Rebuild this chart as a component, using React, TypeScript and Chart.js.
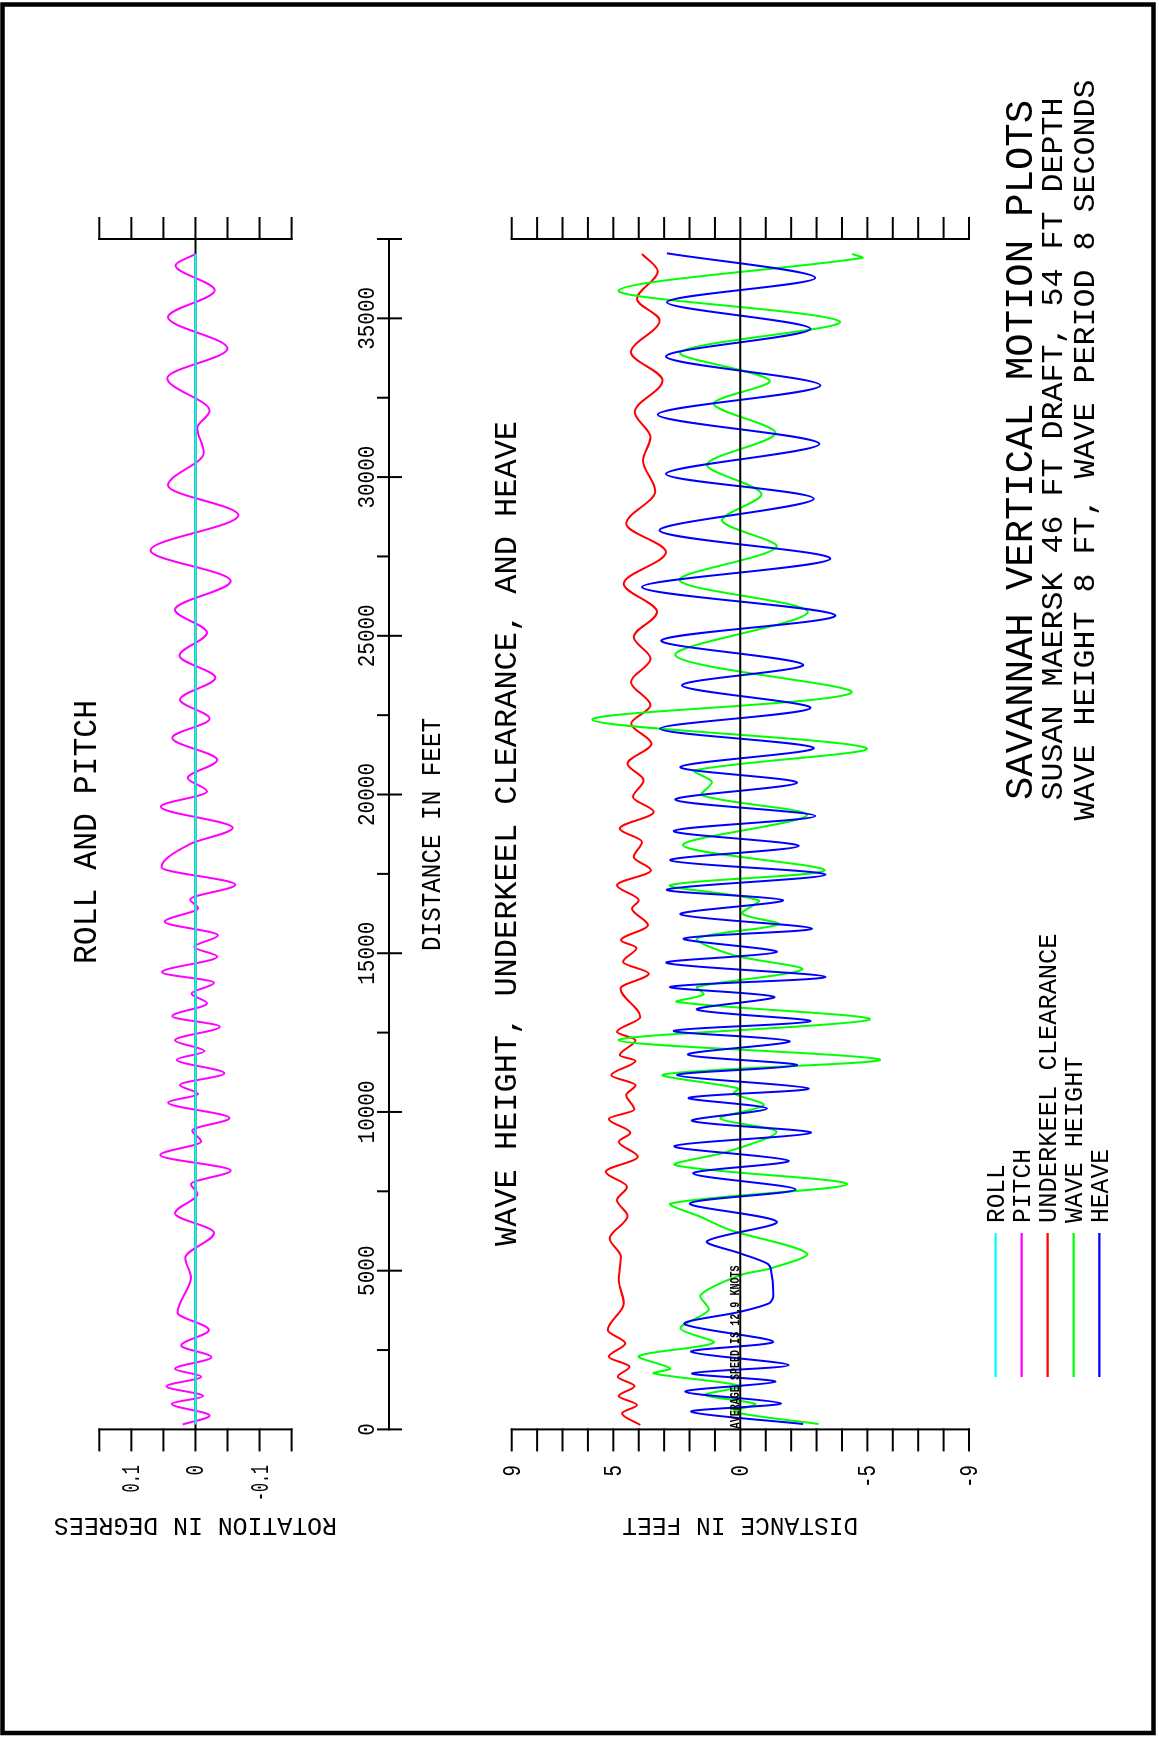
import React, { useEffect, useRef } from 'react';
import { Chart, registerables } from 'chart.js';

Chart.register(...registerables);

// ---------------- DATA ----------------
const rollDist = [155, 37030];
const rollVal = [0, 0];

const pitchDist = [155, 436, 804, 1049, 1356, 1662, 1906, 2274, 2642, 3132, 3683, 4786, 5398, 6194, 6807, 7420, 7726, 8154, 8644, 9073, 9416, 9808, 10298, 10567, 10849, 11217, 11646, 11915, 12258, 12687, 13017, 13422, 13728, 14071, 14402, 14892, 15198, 15565, 15994, 16423, 16693, 17158, 17709, 18444, 18950, 19616, 20098, 20520, 21086, 21785, 22388, 22990, 23677, 24376, 25099, 25822, 26726, 27690, 28798, 29738, 30762, 31546, 32088, 33112, 34052, 35040, 35884, 36667, 37028];
const pitchVal = [0.020, -0.022, 0.037, -0.012, 0.045, -0.009, 0.032, -0.025, 0.022, -0.021, 0.028, 0.007, 0.016, -0.029, 0.032, -0.003, 0.007, -0.055, 0.055, -0.009, 0.005, -0.053, 0.043, -0.004, 0.024, -0.045, 0.029, -0.014, 0.032, -0.038, 0.036, -0.018, 0.006, -0.029, 0.052, -0.034, 0.002, -0.035, 0.048, -0.004, 0.008, -0.062, 0.053, 0.008, -0.058, 0.054, -0.018, 0.012, -0.034, 0.036, -0.022, 0.024, -0.031, 0.025, -0.018, 0.032, -0.055, 0.070, -0.067, 0.043, -0.013, -0.003, -0.022, 0.044, -0.050, 0.043, -0.030, 0.031, 0.0];

const clearanceDist = [138, 506, 768, 1052, 1364, 1660, 1975, 2290, 2710, 3130, 3969, 4704, 5439, 6016, 6719, 7223, 7643, 8115, 8588, 9060, 9343, 9780, 10077, 10529, 10844, 11159, 11610, 11788, 12261, 12523, 12995, 13888, 14360, 14727, 15168, 15410, 15882, 16407, 16669, 17141, 17614, 18033, 18506, 18926, 19450, 19922, 20447, 20972, 21602, 22231, 22809, 23543, 24278, 24960, 25747, 26640, 27637, 28528, 29557, 30523, 31257, 32045, 33042, 33934, 34931, 35613, 36484, 37030];
const clearanceVal = [3.94, 4.66, 4.07, 4.79, 4.17, 4.83, 4.36, 5.18, 4.53, 5.22, 4.59, 4.79, 4.70, 5.14, 4.44, 4.86, 4.46, 5.30, 4.04, 4.79, 4.33, 5.18, 4.17, 4.49, 4.13, 5.08, 4.13, 4.75, 4.13, 4.86, 3.94, 4.72, 3.61, 4.62, 4.09, 4.70, 3.64, 4.27, 4.00, 4.86, 3.52, 4.20, 3.87, 4.75, 3.41, 4.23, 3.81, 4.44, 3.50, 4.29, 3.54, 4.30, 3.54, 4.20, 3.28, 4.59, 2.93, 4.49, 3.35, 3.83, 3.54, 4.16, 3.06, 4.30, 3.18, 4.07, 3.25, 3.87];

const waveDist = [170, 558, 800, 1083, 1366, 1765, 1923, 2311, 2731, 3182, 3759, 4231, 4861, 5071, 5544, 6278, 6698, 7118, 7727, 8325, 8745, 9375, 9794, 10214, 10582, 10739, 11180, 11652, 12261, 12911, 13468, 13700, 13940, 14486, 14937, 15462, 15913, 16249, 16669, 17141, 17614, 18401, 19345, 19975, 20394, 20762, 21465, 22357, 23207, 24383, 25747, 26745, 27794, 28633, 29473, 30397, 31383, 32307, 33042, 33934, 34900, 35876, 36904, 37030];
const waveVal = [-3.08, 0.26, -0.59, 1.38, 0.0, 3.41, 2.76, 4.00, 1.05, 2.36, 1.25, 1.57, 0.0, -1.18, -2.62, 0.39, 1.57, 2.73, -4.20, 2.56, 0.52, -1.42, 0.79, -0.92, 0.26, 0.07, 3.02, -5.49, 4.79, -5.09, 2.49, 1.45, 1.70, -2.43, 0.26, 1.71, -1.51, -0.07, -0.72, 2.76, -3.31, 2.26, -2.62, 1.51, 1.12, 1.80, -4.96, 5.83, -4.37, 2.56, -2.65, 2.39, -1.42, 0.72, -0.83, 1.31, -1.38, 1.05, -1.15, 2.36, -3.91, 4.79, -4.79, -4.40];

const heaveDist = [170, 558, 821, 1188, 1503, 1765, 2027, 2447, 2763, 3319, 3707, 3969, 4179, 5019, 5229, 5544, 5932, 6541, 7118, 7559, 8063, 8462, 8923, 9343, 9720, 10109, 10445, 10739, 11159, 11474, 11809, 12229, 12555, 12859, 13226, 13625, 13940, 14255, 14696, 15042, 15462, 15777, 16228, 16669, 17005, 17477, 17928, 18380, 18852, 19324, 19838, 20373, 20867, 21465, 22074, 22725, 23438, 24089, 24855, 25643, 26535, 27427, 28318, 29316, 30103, 31048, 31971, 32884, 33797, 34669, 35508, 36274, 37051];
const heaveVal = [-2.47, 1.94, -1.60, 2.17, -1.38, 1.90, -1.90, 1.94, -1.29, 2.20, 0.0, -1.12, -1.29, -1.21, -1.05, 0.0, 1.31, -1.44, 1.99, -2.17, 1.86, -1.90, 2.60, -2.78, 1.90, -1.05, 2.03, -2.69, 2.49, -2.23, 2.07, -1.94, 2.62, -2.76, 1.71, -1.34, 2.76, -3.35, 2.91, -1.44, 2.23, -2.82, 2.36, -1.68, 2.89, -3.35, 2.76, -2.30, 2.62, -2.95, 2.56, -2.23, 2.36, -2.89, 3.15, -2.76, 2.30, -2.47, 3.11, -3.74, 3.87, -3.54, 3.18, -2.89, 2.93, -3.11, 3.25, -3.15, 2.93, -2.76, 2.89, -2.95, 2.89];

// axis ticks / labels
const distMax = 37500;
const distTickValues = [0, 5000, 10000, 15000, 20000, 25000, 30000, 35000];
const distTickLabels = ['0', '5000', '10000', '15000', '20000', '25000', '30000', '35000'];
const distMinorTicks = [2500, 7500, 12500, 17500, 22500, 27500, 32500];
const rollRulerTicks = [0.15, 0.1, 0.05, 0, -0.05, -0.1, -0.15];
const rollLabelValues = [0.1, 0, -0.1];
const rollLabels = ['0.1', '0', '-0.1'];
const waveRulerTicks = [9, 8, 7, 6, 5, 4, 3, 2, 1, 0, -1, -2, -3, -4, -5, -6, -7, -8, -9];
const waveLabelValues = [9, 5, 0, -5, -9];
const waveLabels = ['9', '5', '0', '-5', '-9'];

const legendNames = ['ROLL', 'PITCH', 'UNDERKEEL CLEARANCE', 'WAVE HEIGHT', 'HEAVE'];
const legendColors = ['#00ffff', '#ff00ff', '#ff0000', '#00ff00', '#0000ff'];

// ---------------- LAYOUT (landscape canvas, rotated by CSS) ----------------
const W = 1738;
const H = 1159;
const AREA_LEFT = 308.6;
const AREA_RIGHT = 1499;
const AREA_TOP = 99.3;
const AREA_BOTTOM = 969;
const ROLL_TOP_VAL = 0.15;
const ROLL_PX_PER_UNIT = 641;
const WAVE_BOTTOM_VAL = -9;
const WAVE_PX_PER_UNIT = 25.405;
const ROLL_MIN = ROLL_TOP_VAL - (AREA_BOTTOM - AREA_TOP) / ROLL_PX_PER_UNIT;
const WAVE_MAX = WAVE_BOTTOM_VAL + (AREA_BOTTOM - AREA_TOP) / WAVE_PX_PER_UNIT;

const FONT = '"Liberation Mono", "DejaVu Sans Mono", monospace';
const CAP_RATIO = 0.659;

function txt(
  ctx: CanvasRenderingContext2D,
  s: string,
  x: number,
  y: number,
  cap: number,
  width: number,
  align: 'left' | 'center' | 'right' = 'left',
  rot = 0,
  weight = 'normal',
  color = '#000'
) {
  const size = cap / CAP_RATIO;
  ctx.save();
  ctx.font = `${weight} ${size}px ${FONT}`;
  ctx.fillStyle = color;
  ctx.textAlign = 'left';
  ctx.textBaseline = 'alphabetic';
  const nat = ctx.measureText(s).width;
  const sx = width / nat;
  ctx.translate(x, y);
  if (rot) ctx.rotate(rot);
  ctx.scale(sx, 1);
  const ox = align === 'left' ? 0 : align === 'center' ? -nat / 2 : -nat;
  ctx.fillText(s, ox, 0);
  ctx.restore();
}

function line(ctx: CanvasRenderingContext2D, x1: number, y1: number, x2: number, y2: number) {
  ctx.beginPath();
  ctx.moveTo(x1, y1);
  ctx.lineTo(x2, y2);
  ctx.stroke();
}

const decor = {
  id: 'decor',
  beforeDraw(chart: any) {
    const ctx: CanvasRenderingContext2D = chart.ctx;
    ctx.save();
    ctx.fillStyle = '#fff';
    ctx.fillRect(0, 0, W, H);
    ctx.strokeStyle = '#000';
    ctx.lineWidth = 4.5;
    ctx.strokeRect(5, 2.5, 1728.5, 1151);
    ctx.restore();
  },
  beforeDatasetsDraw(chart: any) {
    const ctx: CanvasRenderingContext2D = chart.ctx;
    const x = chart.scales.x;
    const yr = chart.scales.yRoll;
    ctx.save();
    ctx.strokeStyle = '#000';
    ctx.lineWidth = 2;
    const y0 = yr.getPixelForValue(0);
    line(ctx, x.getPixelForValue(0), y0, x.getPixelForValue(distMax), y0);
    ctx.restore();
  },
  afterDatasetsDraw(chart: any) {
    const ctx: CanvasRenderingContext2D = chart.ctx;
    const x = chart.scales.x;
    const yr = chart.scales.yRoll;
    const yw = chart.scales.yWave;
    const xl = x.getPixelForValue(0);
    const xr = x.getPixelForValue(distMax);
    ctx.save();
    ctx.strokeStyle = '#000';
    ctx.lineWidth = 2;
    ctx.lineCap = 'square';

    // wave zero line
    const w0 = yw.getPixelForValue(0);
    line(ctx, xl, w0, xr, w0);

    const TICK = 21;
    // roll rulers
    line(ctx, xl, yr.getPixelForValue(0.15), xl, yr.getPixelForValue(-0.15));
    line(ctx, xr, yr.getPixelForValue(0.15), xr, yr.getPixelForValue(-0.15));
    rollRulerTicks.forEach((v) => {
      const p = yr.getPixelForValue(v);
      line(ctx, xl - TICK, p, xl, p);
      line(ctx, xr, p, xr + TICK, p);
    });
    // wave rulers
    line(ctx, xl, yw.getPixelForValue(9), xl, yw.getPixelForValue(-9));
    line(ctx, xr, yw.getPixelForValue(9), xr, yw.getPixelForValue(-9));
    waveRulerTicks.forEach((v) => {
      const p = yw.getPixelForValue(v);
      line(ctx, xl - TICK, p, xl, p);
      line(ctx, xr, p, xr + TICK, p);
    });

    // distance ruler
    const DY = 389;
    line(ctx, xl, DY, xr, DY);
    distTickValues.forEach((v) => {
      const p = x.getPixelForValue(v);
      line(ctx, p, DY - 11, p, DY + 12);
    });
    line(ctx, xr, DY - 11, xr, DY + 12);
    distMinorTicks.forEach((v) => {
      const p = x.getPixelForValue(v);
      line(ctx, p, DY - 11, p, DY);
    });
    distTickValues.forEach((v, i) => {
      const s = distTickLabels[i];
      txt(ctx, s, x.getPixelForValue(v), 374, 16, 12.6 * s.length, 'center');
    });
    txt(ctx, 'DISTANCE IN FEET', (787 + 1020) / 2, 440, 18, 233, 'center');

    // tick labels of the value axes
    rollLabelValues.forEach((v, i) => {
      const s = rollLabels[i];
      txt(ctx, s, 273, yr.getPixelForValue(v) + 8, 16.5, 8.5 * s.length + 2, 'right');
    });
    waveLabelValues.forEach((v, i) => {
      const s = waveLabels[i];
      txt(ctx, s, 273, yw.getPixelForValue(v) + 8, 16.5, 11.5 * s.length, 'right');
    });

    // value-axis titles (vertical)
    txt(ctx, 'ROTATION IN DEGREES', 220, (yr.getPixelForValue(0.15) + yr.getPixelForValue(-0.15)) / 2, 17, 283, 'center', -Math.PI / 2);
    txt(ctx, 'DISTANCE IN FEET', 220, (yw.getPixelForValue(9) + yw.getPixelForValue(-9)) / 2, 17, 236, 'center', -Math.PI / 2);

    // panel titles
    txt(ctx, 'ROLL AND PITCH', (774 + 1038) / 2, 96, 22, 264, 'center');
    txt(ctx, 'WAVE HEIGHT, UNDERKEEL CLEARANCE, AND HEAVE', (492 + 1317) / 2, 516, 21, 825, 'center');

    // main titles
    txt(ctx, 'SAVANNAH VERTICAL MOTION PLOTS', 1288, 1032, 25, 700, 'center');
    txt(ctx, 'SUSAN MAERSK 46 FT DRAFT, 54 FT DEPTH', 1289, 1062, 19, 703, 'center');
    txt(ctx, 'WAVE HEIGHT 8 FT, WAVE PERIOD 8 SECONDS', 1288, 1094, 19, 741, 'center');

    // speed note
    txt(ctx, 'AVERAGE SPEED IS 12.9 KNOTS', xl + 1, w0 - 1, 8, 163, 'left', 0, 'bold');

    // legend
    const legY = [995.7, 1021.7, 1047.7, 1073.7, 1099.3];
    legendNames.forEach((name, i) => {
      ctx.strokeStyle = legendColors[i];
      ctx.lineWidth = 2.2;
      ctx.lineCap = 'butt';
      line(ctx, 361, legY[i], 505, legY[i]);
      txt(ctx, name, 515, legY[i] + 8.5, 17, 15.4 * name.length - 3, 'left');
    });
    ctx.restore();
  },
};

function pts(xs: number[], ys: number[]) {
  return xs.map((v, i) => ({ x: v, y: ys[i] }));
}

export default function App() {
  const ref = useRef<HTMLCanvasElement>(null);
  useEffect(() => {
    if (!ref.current) return;
    const common = { pointRadius: 0, borderWidth: 2, fill: false };
    const chart = new Chart(ref.current, {
      type: 'line',
      data: {
        datasets: [
          { ...common, label: 'ROLL', data: pts(rollDist, rollVal), borderColor: '#00ffff', yAxisID: 'yRoll', order: 0 },
          { ...common, label: 'PITCH', data: pts(pitchDist, pitchVal), borderColor: '#ff00ff', yAxisID: 'yRoll', cubicInterpolationMode: 'monotone', order: 1 },
          { ...common, label: 'UNDERKEEL CLEARANCE', data: pts(clearanceDist, clearanceVal), borderColor: '#ff0000', yAxisID: 'yWave', cubicInterpolationMode: 'monotone', order: 4 },
          { ...common, label: 'WAVE HEIGHT', data: pts(waveDist, waveVal), borderColor: '#00ff00', yAxisID: 'yWave', tension: 0.3, order: 3 },
          { ...common, label: 'HEAVE', data: pts(heaveDist, heaveVal), borderColor: '#0000ff', yAxisID: 'yWave', tension: 0.3, order: 2 },
        ] as any,
      },
      options: {
        responsive: false,
        devicePixelRatio: 1,
        animation: false,
        events: [],
        layout: {
          padding: { left: AREA_LEFT, right: W - AREA_RIGHT, top: AREA_TOP, bottom: H - AREA_BOTTOM },
        },
        plugins: { legend: { display: false }, tooltip: { enabled: false }, title: { display: false } },
        scales: {
          x: { type: 'linear', min: 0, max: distMax, display: false },
          yRoll: { type: 'linear', min: ROLL_MIN, max: ROLL_TOP_VAL, display: false },
          yWave: { type: 'linear', min: WAVE_BOTTOM_VAL, max: WAVE_MAX, display: false },
        },
      } as any,
      plugins: [decor],
    });
    return () => chart.destroy();
  }, []);

  return (
    <div style={{ position: 'absolute', left: 0, top: 0, width: 1159, height: 1738, overflow: 'hidden', background: '#fff' }}>
      <div
        style={{
          position: 'absolute',
          left: 0,
          top: 0,
          width: W,
          height: H,
          transformOrigin: '0 0',
          transform: `translateY(${W}px) rotate(-90deg)`,
        }}
      >
        <canvas ref={ref} width={W} height={H} style={{ display: 'block', width: W, height: H }} />
      </div>
    </div>
  );
}
